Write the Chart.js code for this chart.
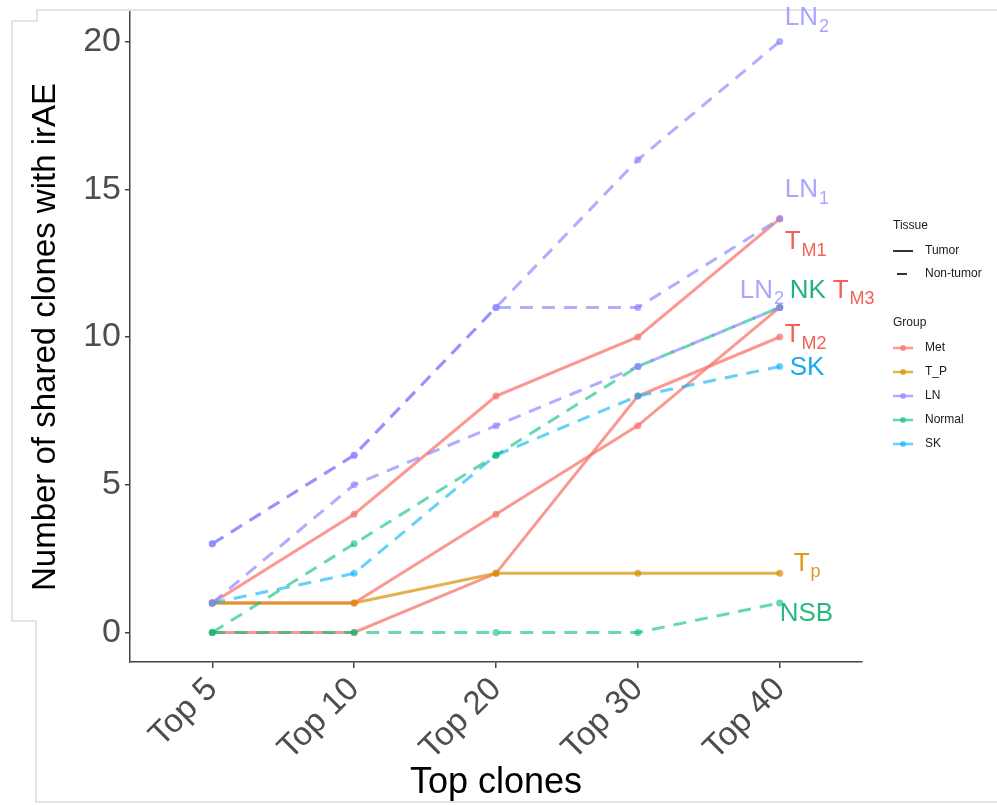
<!DOCTYPE html>
<html>
<head>
<meta charset="utf-8">
<script src="https://cdn.jsdelivr.net/npm/chart.js@4.4.1/dist/chart.umd.min.js"></script>
<style>
  html, body { margin: 0; padding: 0; background: #fff; }
  #wrap { width: 997px; height: 805px; position: relative; }
</style>
</head>
<body>
<div id="wrap"><canvas id="cloneChart"></canvas></div>
<script>
// Data
const categories = ["Top 5", "Top 10", "Top 20", "Top 30", "Top 40"];
const yTicks = [0, 5, 10, 15, 20];

const metM1 = [1, 4, 8, 10, 14];
const metM2 = [0, 0, 2, 8, 10];
const metM3 = [1, 1, 4, 7, 11];
const tumorP = [1, 1, 2, 2, 2];
const lnOne = [3, 6, 11, 11, 14];
const lnTwoA = [3, 6, 11, 16, 20];
const lnTwoB = [1, 5, 7, 9, 11];
const normalNK = [0, 3, 6, 9, 11];
const normalNSB = [0, 0, 0, 0, 1];
const skinSK = [1, 2, 6, 8, 9];

const groupColors = {
  Met: "rgba(248,118,109,0.75)",
  T_P: "rgba(216,144,0,0.7)",
  LN: "rgba(140,134,255,0.68)",
  Normal: "rgba(0,191,125,0.6)",
  SK: "rgba(0,176,246,0.6)",
};

const series = [
  { name: "LN2a", values: lnTwoA, group: "LN", dashed: true },
  { name: "LN1", values: lnOne, group: "LN", dashed: true },
  { name: "LN2b", values: lnTwoB, group: "LN", dashed: true },
  { name: "NK", values: normalNK, group: "Normal", dashed: true },
  { name: "NSB", values: normalNSB, group: "Normal", dashed: true },
  { name: "SK", values: skinSK, group: "SK", dashed: true },
  { name: "TP", values: tumorP, group: "T_P", dashed: false },
  { name: "TM1", values: metM1, group: "Met", dashed: false },
  { name: "TM2", values: metM2, group: "Met", dashed: false },
  { name: "TM3", values: metM3, group: "Met", dashed: false },
];

// end labels: text, subscript, colour, which series it sits by, offsets in px
const endLabels = [
  { main: "LN", sub: "2", color: "#a9a6ff", values: lnTwoA, dx: 5, dy: -24 },
  { main: "LN", sub: "1", color: "#a9a6ff", values: lnOne, dx: 5, dy: -29 },
  { main: "T", sub: "M1", color: "#f2605a", values: metM1, dx: 5, dy: 23 },
  { main: "LN", sub: "2", color: "#a9a6ff", values: lnTwoB, dx: -40, dy: -17 },
  { main: "NK", sub: "", color: "#22b27a", values: normalNK, dx: 10, dy: -17 },
  { main: "T", sub: "M3", color: "#f2605a", values: metM3, dx: 53, dy: -17 },
  { main: "T", sub: "M2", color: "#f2605a", values: metM2, dx: 5, dy: -2 },
  { main: "SK", sub: "", color: "#17a8ee", values: skinSK, dx: 10, dy: 1 },
  { main: "T", sub: "p", color: "#de9a1e", values: tumorP, dx: 14, dy: -10 },
  { main: "NSB", sub: "", color: "#27b97f", values: normalNSB, dx: 0, dy: 11 },
];

const FONT = "'Liberation Sans', Arial, sans-serif";

const datasets = series.map(function (s) {
  return {
    label: s.name,
    data: s.values.map(function (v, i) { return { x: i + 1, y: v }; }),
    borderColor: groupColors[s.group],
    backgroundColor: groupColors[s.group],
    pointBackgroundColor: groupColors[s.group],
    pointBorderWidth: 0,
    pointRadius: 3.5,
    borderWidth: 3,
    borderDash: s.dashed ? [13, 9] : [],
    tension: 0,
  };
});

// page frame, end labels and the ggplot-style legend
const decorPlugin = {
  id: "decor",
  beforeDraw(chart) {
    const ctx = chart.ctx;
    ctx.save();
    ctx.strokeStyle = "#dcdcdc";
    ctx.lineWidth = 1.5;
    ctx.beginPath();
    ctx.moveTo(997, 10);
    ctx.lineTo(37, 10);
    ctx.lineTo(37, 21);
    ctx.lineTo(12, 21);
    ctx.lineTo(12, 621);
    ctx.lineTo(36, 621);
    ctx.lineTo(36, 802);
    ctx.lineTo(997, 802);
    ctx.stroke();
    ctx.restore();
  },
  afterDraw(chart) {
    const ctx = chart.ctx;
    const xs = chart.scales.x;
    const ys = chart.scales.y;
    ctx.save();
    ctx.textBaseline = "middle";
    ctx.textAlign = "left";
    endLabels.forEach(function (l) {
      const last = l.values.length - 1;
      const x = xs.getPixelForValue(last + 1) + l.dx;
      const y = ys.getPixelForValue(l.values[last]) + l.dy;
      ctx.fillStyle = l.color;
      ctx.font = "26px " + FONT;
      ctx.fillText(l.main, x, y);
      if (l.sub) {
        const w = ctx.measureText(l.main).width;
        ctx.font = "18px " + FONT;
        ctx.fillText(l.sub, x + w + 1, y + 9);
      }
    });

    // legend
    const lx = 893;
    ctx.fillStyle = "#1a1a1a";
    ctx.font = "12px " + FONT;
    ctx.fillText("Tissue", lx, 226);
    ctx.fillText("Group", lx, 323);
    ctx.strokeStyle = "#333";
    ctx.lineWidth = 2;
    ctx.beginPath();
    ctx.moveTo(lx, 251); ctx.lineTo(lx + 20, 251);
    ctx.moveTo(lx + 4, 274); ctx.lineTo(lx + 14, 274);
    ctx.stroke();
    ctx.fillText("Tumor", lx + 32, 251);
    ctx.fillText("Non-tumor", lx + 32, 274);

    const groups = ["Met", "T_P", "LN", "Normal", "SK"];
    groups.forEach(function (g, i) {
      const y = 348 + i * 24;
      ctx.strokeStyle = groupColors[g];
      ctx.fillStyle = groupColors[g];
      ctx.lineWidth = 2.5;
      ctx.beginPath();
      ctx.moveTo(lx, y); ctx.lineTo(lx + 20, y);
      ctx.stroke();
      ctx.beginPath();
      ctx.arc(lx + 10, y, 3, 0, Math.PI * 2);
      ctx.fill();
      ctx.fillStyle = "#1a1a1a";
      ctx.fillText(g, lx + 32, y);
    });
    ctx.restore();
  },
};

const ctx = document.getElementById("cloneChart").getContext("2d");
const cloneChart = new Chart(ctx, {
  type: "line",
  data: { datasets: datasets },
  plugins: [decorPlugin],
  options: {
    responsive: true,
    maintainAspectRatio: false,
    animation: false,
    layout: { padding: { left: 0, right: 135, top: 12, bottom: 0 } },
    plugins: {
      legend: { display: false },
      tooltip: { enabled: false },
    },
    scales: {
      x: {
        type: "linear",
        min: 0.42,
        max: 5.58,
        afterBuildTicks(scale) {
          scale.ticks = categories.map(function (c, i) { return { value: i + 1 }; });
        },
        afterFit(scale) {
          scale.height = 143;
          scale.paddingLeft = 0;
          scale.paddingRight = 0;
        },
        ticks: {
          callback: function (v) { return categories[v - 1]; },
          minRotation: 45,
          maxRotation: 45,
          autoSkip: false,
          padding: 2,
          color: "#4d4d4d",
          font: { family: FONT, size: 33 },
        },
        grid: { drawOnChartArea: false, drawTicks: true, tickLength: 6, color: "#444", lineWidth: 1.5 },
        border: { display: true, color: "#444", width: 1.5 },
        title: {
          display: true,
          text: "Top clones",
          color: "#000",
          font: { family: FONT, size: 36 },
          padding: { top: 0, bottom: 0 },
        },
      },
      y: {
        min: -1,
        max: 21,
        afterBuildTicks(scale) {
          scale.ticks = yTicks.map(function (v) { return { value: v }; });
        },
        afterFit(scale) {
          scale.width = 130;
          scale.paddingTop = 0;
          scale.paddingBottom = 0;
        },
        ticks: {
          padding: 4,
          color: "#4d4d4d",
          font: { family: FONT, size: 34 },
        },
        grid: { drawOnChartArea: false, drawTicks: true, tickLength: 5, color: "#444", lineWidth: 1.5 },
        border: { display: true, color: "#444", width: 1.5 },
        title: {
          display: true,
          text: "Number of shared clones with irAE",
          color: "#000",
          font: { family: FONT, size: 33 },
          padding: { top: 26, bottom: 0 },
        },
      },
    },
  },
});
</script>
</body>
</html>
